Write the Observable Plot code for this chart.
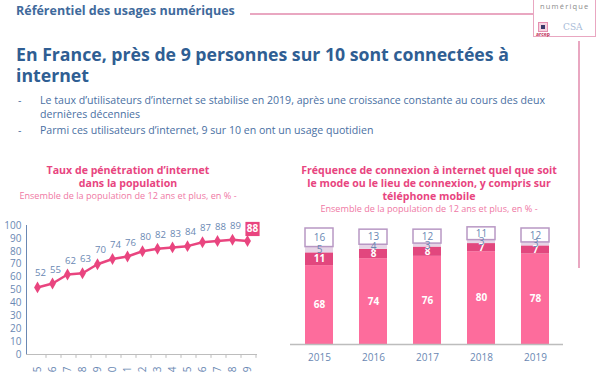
<!DOCTYPE html>
<html>
<head>
<meta charset="utf-8">
<script src="https://cdn.jsdelivr.net/npm/d3@7"></script>
<script src="https://cdn.jsdelivr.net/npm/@observablehq/plot@0.6"></script>
<style>
  html, body { margin: 0; padding: 0; background: #fff; overflow: hidden; }
  #page { position: relative; width: 600px; height: 372px; overflow: hidden; font-family: "Open Sans", sans-serif; }
  .abs { position: absolute; white-space: nowrap; }
  .ctitle { font-weight: bold; color: #e8457f; font-size: 10.6px; line-height: 13px; text-align: center; }
  .csub { color: #ef78a4; font-size: 9.1px; text-align: center; }
</style>
</head>
<body>
<div id="page">
  <div class="abs" style="left:16px;top:2px;font-size:12.5px;font-weight:bold;color:#3f6a9c;">Référentiel des usages numériques</div>
  <div class="abs" style="left:250px;top:13px;width:283px;height:1.5px;background:#e9a7c1;"></div>
  <div class="abs" style="left:533px;top:-2px;width:61px;height:38px;border:1px solid #e9a7c1;border-top:none;"></div>
  <div class="abs" style="left:540px;top:1px;font-size:7.5px;letter-spacing:1.2px;color:#8c8c8c;">numérique</div>
  <div class="abs" style="left:538px;top:22px;width:8px;height:8px;border:1px solid #e58fb0;background:#f6d3e0;"></div>
  <div class="abs" style="left:540.5px;top:24.5px;width:4px;height:4px;background:#3a3a6a;"></div>
  <div class="abs" style="left:536px;top:31px;font-size:5px;font-weight:bold;color:#c0305a;">arcep</div>
  <div class="abs" style="left:563px;top:22px;font-size:9px;color:#a9bcd8;font-family:'DejaVu Serif',serif;">CSA</div>
  <div class="abs" style="left:578px;top:41px;width:1.5px;height:227px;background:#e9a7c1;"></div>

  <div class="abs" style="left:16px;top:44px;font-size:17.7px;line-height:21px;font-weight:bold;color:#2f5e93;">En France, près de 9 personnes sur 10 sont connectées à<br>internet</div>

  <div class="abs" style="left:18px;top:93px;font-size:10.6px;color:#4a70a3;">-</div>
  <div class="abs" style="left:40px;top:93px;font-size:10.6px;line-height:14px;color:#4a70a3;">Le taux d’utilisateurs d’internet se stabilise en 2019, après une croissance constante au cours des deux<br>dernières décennies</div>
  <div class="abs" style="left:18px;top:123px;font-size:10.6px;color:#4a70a3;">-</div>
  <div class="abs" style="left:40px;top:123px;font-size:10.6px;color:#4a70a3;">Parmi ces utilisateurs d’internet, 9 sur 10 en ont un usage quotidien</div>

  <div class="abs ctitle" style="left:28px;width:200px;top:164px;">Taux de pénétration d’internet<br>dans la population</div>
  <div class="abs csub" style="left:18px;width:220px;top:189px;">Ensemble de la population de 12 ans et plus, en % -</div>

  <div class="abs ctitle" style="left:279px;width:300px;top:164px;">Fréquence de connexion à internet quel que soit<br>le mode ou le lieu de connexion, y compris sur<br>téléphone mobile</div>
  <div class="abs csub" style="left:319px;width:220px;top:202px;">Ensemble de la population de 12 ans et plus, en % -</div>

  <div id="left" class="abs" style="left:0px;top:215px;"></div>
  <div id="right" class="abs" style="left:280px;top:215px;"></div>
</div>
<script>
// Left chart: penetration rate
const years = ["2005","2006","2007","2008","2009","2010","2011","2012","2013","2014","2015","2016","2017","2018","2019"];
const penetration = [52,55,62,63,70,74,76,80,82,83,84,87,88,89,88];

// Right chart: connection frequency
const barYears = ["2015","2016","2017","2018","2019"];
const seriesNames = ["Tous les jours","Au moins une fois par semaine","Moins souvent","Jamais"];
const quotidien = [68,74,76,80,78];
const hebdo = [11,8,8,7,7];
const moinsSouvent = [5,4,3,3,3];
const jamais = [16,13,12,11,12];

const pink = "#e9457f";
const blueText = "#6a88b3";

const leftRows = years.map((y, i) => ({year: y, value: penetration[i]}));
const lastRow = leftRows.slice(-1);
const otherRows = leftRows.slice(0, -1);

const leftPlot = Plot.plot({
  width: 270, height: 157,
  marginLeft: 26, marginRight: 13, marginTop: 10, marginBottom: 18,
  style: {fontFamily: "Open Sans", fontSize: "10px", color: blueText, background: "transparent"},
  x: {type: "point", domain: years, padding: 0.5, tickSize: 0, tickPadding: 12, tickRotate: -90, label: null},
  y: {domain: [0, 100], ticks: d3.range(0, 101, 10), tickSize: 0, tickPadding: 5, label: null, line: true},
  marks: [
    Plot.ruleY([0], {stroke: "#bdbdbd"}),
    Plot.ruleX(years, {x: d => d, y1: 0, y2: -3, dx: 8.5, stroke: "#bdbdbd"}),
    Plot.line(leftRows, {x: "year", y: "value", stroke: pink, strokeWidth: 2.5}),
    Plot.dot(leftRows, {x: "year", y: "value", symbol: "diamond", r: 3.6, fill: pink}),
    Plot.text(otherRows, {x: "year", y: "value", text: "value", dx: 3, dy: -14, fill: blueText, fontSize: 9.6}),
    Plot.dot(lastRow, {x: "year", y: "value", symbol: "square", r: 8, fill: pink, dx: 5, dy: -12}),
    Plot.text(lastRow, {x: "year", y: "value", text: "value", dx: 5, dy: -12, fill: "white", fontWeight: "bold", fontSize: 10})
  ]
});
document.getElementById("left").appendChild(leftPlot);

const seriesValues = [quotidien, hebdo, moinsSouvent, jamais];
const barRows = seriesNames.flatMap((s, si) => barYears.map((y, i) => ({year: y, series: s, value: seriesValues[si][i]})));

const rightPlot = Plot.plot({
  width: 300, height: 157,
  marginLeft: 10, marginRight: 17, marginTop: 13, marginBottom: 28,
  style: {fontFamily: "Open Sans", fontSize: "10px", color: blueText, background: "transparent"},
  x: {domain: barYears, paddingInner: 0.49, paddingOuter: 0.245, tickSize: 0, tickPadding: 9, label: null},
  y: {domain: [0, 100], axis: null},
  color: {domain: seriesNames, range: ["#fd6c9c", "#e2477e", "#e6d5e6", "#ffffff"]},
  opacity: {type: "identity"},
  marks: [
    Plot.barY(barRows, Plot.stackY({x: "year", y: "value", fill: "series", stroke: "#b898c4", strokeWidth: 1.5,
      strokeOpacity: d => d.series === "Jamais" ? 1 : 0})),
    Plot.ruleY([0], {stroke: "#bdbdbd", strokeWidth: 1.5}),
    Plot.text(barRows, Plot.stackY({x: "year", y: "value",
      text: d => (d.series === seriesNames[0] || d.series === seriesNames[1]) ? String(d.value) : "",
      fill: "white", fontWeight: "bold", fontSize: 10})),
    Plot.text(barRows, Plot.stackY({x: "year", y: "value",
      text: d => (d.series === seriesNames[2] || d.series === seriesNames[3]) ? String(d.value) : "",
      fill: blueText, fontSize: 10}))
  ]
});
document.getElementById("right").appendChild(rightPlot);
</script>
</body>
</html>
